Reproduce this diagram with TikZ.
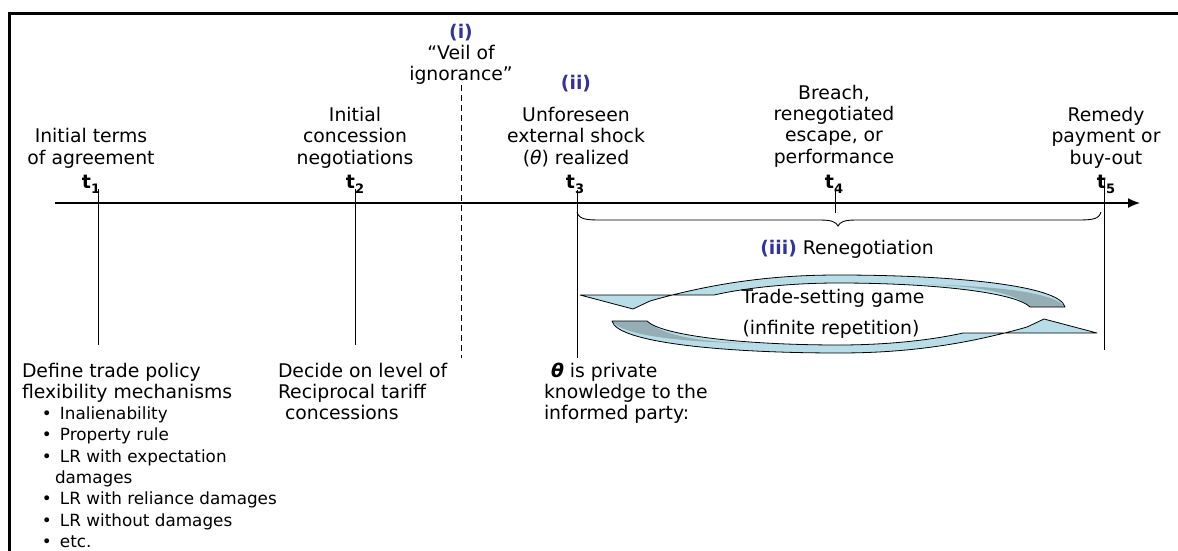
\documentclass[tikz,border=0pt]{standalone}
\usepackage{fontspec}
\setmainfont{DejaVu Sans}
\usetikzlibrary{arrows.meta}
\definecolor{lblblue}{RGB}{51,51,153}
\definecolor{arrlight}{RGB}{183,222,232}
\definecolor{arrdark}{RGB}{147,174,180}
\newcommand{\stackb}[1]{\begin{tabular}[b]{@{}c@{}}#1\end{tabular}}
\newcommand{\stackl}[1]{\begin{tabular}[t]{@{}l@{}}#1\end{tabular}}
\newcommand{\tsub}[2]{{\fontsize{19}{19}\selectfont\textbf{#1}}\raisebox{-5pt}{\fontsize{13}{13}\selectfont\textbf{#2}}}
\newcommand{\blt}[1]{\hspace*{20pt}{\fontsize{16.8}{21.3}\selectfont\makebox[18pt][l]{•}#1}}
\newcommand{\arrowbody}{(580,295) -- (633,309) -- (650,301) .. controls (720,281) and (780,275) .. (838,275) .. controls (950,275) and (1060,285) .. (1065,307) -- (1030,307) .. controls (1015,292) and (930,283) .. (838,283) .. controls (790,283) and (745,288) .. (714,295) -- cycle}
\newcommand{\arrowdark}{(1030,307) .. controls (1015,292) and (975,286) .. (925,284.5) .. controls (1000,286) and (1055,293) .. (1065,307) -- cycle}
\begin{document}
\begin{tikzpicture}[x=1pt,y=-1pt,
  txt/.style={font=\fontsize{18.8}{21.3}\selectfont, inner sep=0pt, outer sep=0pt},
  blue/.style={text=lblblue, font=\fontsize{18.8}{21.3}\selectfont\bfseries, inner sep=0pt},
  tickline/.style={line width=1pt},
  frameline/.style={line width=2.5pt},
  outline/.style={draw=black, line width=0.8pt, line join=round},
]
\useasboundingbox (0,0) rectangle (1178,551);
% frame
\coordinate (fTL) at (9.5,13.5);
\coordinate (fTR) at (1178,13.5);
\coordinate (fBL) at (9.5,551);
\draw[frameline] (fTR) -- (fTL) -- (fBL);
% axis
\coordinate (axL) at (55,203);
\coordinate (axR) at (1140,203);
\draw[line width=1.4pt, -{Latex[length=12pt,width=10pt]}] (axL) -- (axR);
% ticks
\coordinate (t1a) at (98,189);  \coordinate (t1b) at (98,345);
\coordinate (t2a) at (355,189); \coordinate (t2b) at (355,345);
\coordinate (t3a) at (577,190); \coordinate (t3b) at (577,358);
\coordinate (t4a) at (835,190); \coordinate (t4b) at (835,213);
\coordinate (t5a) at (1104,178); \coordinate (t5b) at (1104,350);
\coordinate (vla) at (461,85); \coordinate (vlb) at (461,358);
\draw[tickline] (t1a) -- (t1b);
\draw[tickline] (t2a) -- (t2b);
\draw[tickline] (t3a) -- (t3b);
\draw[tickline] (t4a) -- (t4b);
\draw[tickline] (t5a) -- (t5b);
\draw[tickline, dash pattern=on 6pt off 4pt] (vla) -- (vlb);
% brace
\draw[line width=0.9pt] (577,212) .. controls (579,219) and (585,220) .. (600,220) -- (820,220) .. controls (832,220) and (836,222) .. (838,226) .. controls (840,222) and (844,220) .. (856,220) -- (1078,220) .. controls (1093,220) and (1099,219) .. (1101,212);
% top labels
\node[txt, anchor=base] (lab1) at (91,164) {\stackb{Initial terms\\of agreement}};
\node[txt, anchor=base] (tt1) at (91,188) {\tsub{t}{1}};
\node[txt, anchor=base] (lab2) at (355,164) {\stackb{Initial\\concession\\negotiations}};
\node[txt, anchor=base] (tt2) at (355,188) {\tsub{t}{2}};
\node[txt, anchor=base] (veil) at (461,81) {\stackb{\textcolor{lblblue}{\textbf{(i)}}\\“Veil of\\ignorance”}};
\node[blue, anchor=base] (ii) at (576,89) {(ii)};
\node[txt, anchor=base] (lab3) at (576,164) {\stackb{Unforeseen\\external shock\\(\textit{θ}) realized}};
\node[txt, anchor=base] (tt3) at (575,188) {\tsub{t}{3}};
\node[txt, anchor=base] (lab4) at (834,163) {\stackb{Breach,\\renegotiated\\escape, or\\performance}};
\node[txt, anchor=base] (tt4) at (834,188) {\tsub{t}{4}};
\node[txt, anchor=base] (lab5) at (1106,164) {\stackb{Remedy\\payment or\\buy-out}};
\node[txt, anchor=base] (tt5) at (1106,188) {\tsub{t}{5}};
% renegotiation
\node[txt, anchor=base] (reneg) at (847,254) {\textcolor{lblblue}{\textbf{(iii)}} Renegotiation};
\fill[arrlight] \arrowbody;
\fill[arrdark] \arrowdark;
\draw[outline] \arrowbody;
\begin{scope}[rotate around={180:(838.5,314)}]
\fill[arrlight] \arrowbody;
\fill[arrdark] \arrowdark;
\draw[outline] \arrowbody;
\end{scope}
\node[txt, anchor=base] (game) at (833,303) {Trade-setting game};
\node[txt, anchor=base] (rep) at (831,334) {(infinite repetition)};
% bottom texts
\node[txt, anchor=base west] (defn) at (22,377) {\stackl{Define trade policy\\flexibility mechanisms\\\blt{Inalienability}\\\blt{Property rule}\\\blt{LR with expectation}\\\hspace*{33pt}{\fontsize{16.8}{21.3}\selectfont damages}\\\blt{LR with reliance damages}\\\blt{LR without damages}\\\blt{etc.}}};
\node[txt, anchor=base west] (decide) at (278,377) {\stackl{Decide on level of\\Reciprocal tariff\\\hspace*{7pt}concessions}};
\node[txt, anchor=base west] (priv) at (544,377) {\stackl{\hspace*{7pt}\textbf{\textit{θ}} is private\\knowledge to the\\informed party:}};
\end{tikzpicture}
\end{document}
